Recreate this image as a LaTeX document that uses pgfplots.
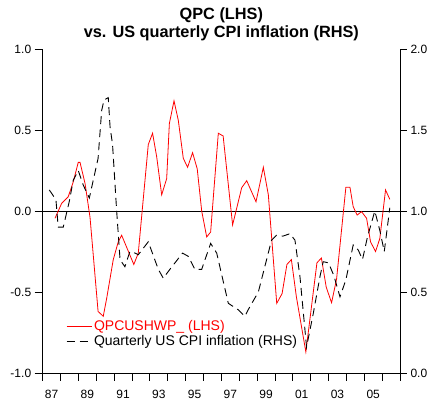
\documentclass[border=0pt]{standalone}
\usepackage{fontspec}
\setmainfont{Liberation Sans}
\usepackage{pgfplots}
\pgfplotsset{compat=1.18}
\begin{document}
\begin{tikzpicture}
\useasboundingbox (-42.7pt,-29pt) rectangle (386.3pt,373pt);
\begin{axis}[
  scale only axis, width=357.3pt, height=324pt,
  xmin=1987, xmax=2007, ymin=-1, ymax=1,
  axis x line*=bottom, axis y line*=left,
  axis line style={-, line width=0.8pt},
  tick align=outside, major tick length=8pt,
  tick style={black, line width=0.8pt},
  xtick={1987,...,2007}, xticklabels={},
  extra x ticks={1987.5,1989.5,1991.5,1993.5,1995.5,1997.5,1999.5,2001.5,2003.5,2005.5},
  extra x tick labels={87,89,91,93,95,97,99,01,03,05},
  extra x tick style={tick style={draw=none}},
  xticklabel style={yshift=-6pt},
  ytick={-1,-0.5,0,0.5,1},
  /pgf/number format/assume math mode=true,
  yticklabel style={/pgf/number format/.cd,fixed,fixed zerofill,precision=1},
  ticklabel style={font=\fontsize{12}{14}\selectfont},
  clip=false,
]
\addplot[black, line width=0.7pt] coordinates {(1987,0) (2007,0)};
\addplot[red, line width=0.8pt] coordinates {
(1987.69,-0.045) (1988.06,0.047) (1988.43,0.088) (1988.71,0.18) (1988.99,0.30)
(1989.09,0.30) (1989.37,0.17) (1989.65,-0.04) (1990.1,-0.62) (1990.39,-0.65)
(1990.58,-0.54) (1990.95,-0.30) (1991.23,-0.19) (1991.42,-0.15) (1992.1,-0.33)
(1992.35,-0.26) (1992.91,0.41) (1993.15,0.48) (1993.38,0.335) (1993.66,0.10)
(1993.94,0.20) (1994.09,0.54) (1994.35,0.68) (1994.59,0.56) (1994.87,0.325)
(1995.11,0.27) (1995.39,0.36) (1995.65,0.26) (1995.9,0.0) (1996.18,-0.16)
(1996.4,-0.13) (1996.83,0.48) (1997.1,0.463) (1997.63,-0.086) (1998.14,0.144)
(1998.42,0.187) (1998.94,0.057) (1999.16,0.17) (1999.35,0.27) (1999.63,0.10)
(2000.1,-0.57) (2000.4,-0.51) (2000.67,-0.33) (2000.92,-0.30) (2001.2,-0.53)
(2001.73,-0.87) (2002.35,-0.32) (2002.6,-0.29) (2002.87,-0.47) (2003.17,-0.566)
(2003.45,-0.42) (2003.97,0.146) (2004.2,0.146) (2004.38,0.027) (2004.6,-0.025)
(2004.85,-0.004) (2005.13,-0.045) (2005.35,-0.19) (2005.63,-0.25) (2005.87,-0.17)
(2006.19,0.13) (2006.43,0.072)
};
\end{axis}
\begin{axis}[
  scale only axis, width=357.3pt, height=324pt,
  xmin=1987, xmax=2007, ymin=0, ymax=2,
  axis y line*=right, axis x line=none,
  axis line style={-, line width=0.8pt},
  tick align=outside, major tick length=7pt,
  tick style={black, line width=0.8pt},
  ytick={0,0.5,1,1.5,2},
  /pgf/number format/assume math mode=true,
  yticklabel style={/pgf/number format/.cd,fixed,fixed zerofill,precision=1},
  ticklabel style={font=\fontsize{12}{14}\selectfont},
  clip=false,
  legend style={draw=none, fill=none, at={(0.065,0.17)}, anchor=north west,
    font=\fontsize{14}{16}\selectfont, inner sep=0pt, row sep=0pt},
  legend cell align=left,
  legend image code/.code={\draw[#1] (0pt,0pt) -- (25pt,0pt);},
  title style={font=\fontsize{16.3}{17.5}\selectfont\bfseries, align=center, yshift=-1pt},
  title={QPC (LHS)\\vs. US quarterly CPI inflation (RHS)},
]
\addlegendimage{red, line width=0.8pt}
\addlegendentry{\textcolor{red}{QPCUSHWP\_ (LHS)}}
\addplot[black, line width=0.9pt, dash pattern=on 8pt off 5pt] coordinates {
(1987.37,1.13) (1987.74,1.07) (1987.87,0.90) (1988.15,0.90) (1988.49,1.06)
(1988.71,1.19) (1988.99,1.25) (1989.27,1.16) (1989.61,1.08) (1990.1,1.325)
(1990.3,1.62) (1990.43,1.685) (1990.67,1.70) (1990.77,1.52) (1990.91,1.41)
(1991.14,1.0) (1991.33,0.70) (1991.6,0.656) (1991.88,0.75) (1992.17,0.74)
(1992.35,0.73) (1992.91,0.81) (1993.47,0.64) (1993.75,0.585) (1994.12,0.64)
(1994.83,0.74) (1995.15,0.72) (1995.52,0.64) (1995.9,0.64) (1996.4,0.80)
(1996.74,0.74) (1997.39,0.43) (1997.95,0.39) (1998.32,0.35) (1998.5,0.39)
(1999.07,0.50) (1999.81,0.82) (2000.09,0.85) (2000.45,0.845) (2000.84,0.86)
(2001.12,0.82) (2001.4,0.595) (2001.77,0.16) (2002.15,0.37) (2002.52,0.595)
(2002.7,0.687) (2003.0,0.68) (2003.3,0.60) (2003.64,0.47) (2003.97,0.575)
(2004.38,0.79) (2004.66,0.76) (2004.9,0.70) (2005.18,0.84) (2005.59,1.0)
(2005.87,0.88) (2006.12,0.75) (2006.43,1.02)
};
\addlegendentry{Quarterly US CPI inflation (RHS)}
\end{axis}
\end{tikzpicture}
\end{document}
